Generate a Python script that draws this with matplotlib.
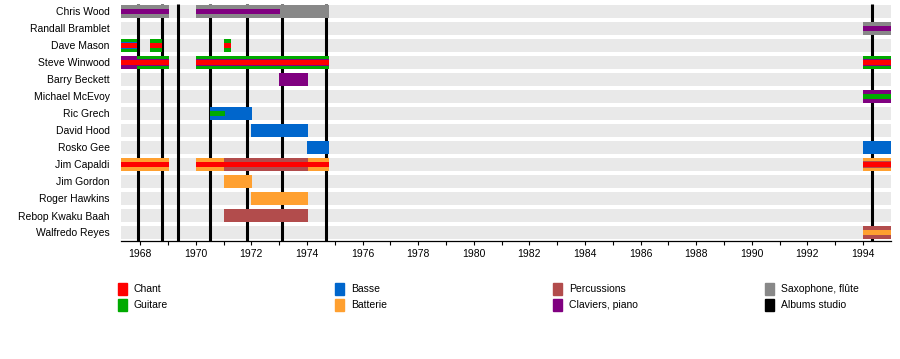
import matplotlib
matplotlib.use('Agg')
import matplotlib.pyplot as plt
from matplotlib.patches import Rectangle

plt.rcParams['font.family'] = ['Liberation Sans', 'DejaVu Sans']

members = ['Chris Wood', 'Randall Bramblet', 'Dave Mason', 'Steve Winwood',
           'Barry Beckett', 'Michael McEvoy', 'Ric Grech', 'David Hood',
           'Rosko Gee', 'Jim Capaldi', 'Jim Gordon', 'Roger Hawkins',
           'Rebop Kwaku Baah', 'Walfredo Reyes']

colors = {
    'Chant': '#ff0000',
    'Guitare': '#00aa00',
    'Basse': '#0066cc',
    'Batterie': '#ffa030',
    'Percussions': '#b24c4c',
    'Claviers, piano': '#800080',
    'Saxophone, flûte': '#888888',
    'Albums studio': '#000000',
}
legend_order = ['Chant', 'Guitare', 'Basse', 'Batterie',
                'Percussions', 'Claviers, piano', 'Saxophone, flûte', 'Albums studio']

period_start = 1967.3
period_end = 1995.0

# studio album release dates
albums = [1967.92, 1968.78, 1969.36, 1970.52, 1971.86, 1973.1, 1974.68, 1994.34]

# (member, start, end, role) main bars
base_bars = [
    ('Chris Wood', 1967.3, 1969.04, 'Saxophone, flûte'),
    ('Chris Wood', 1970.02, 1974.8, 'Saxophone, flûte'),
    ('Randall Bramblet', 1994.0, 1995.0, 'Saxophone, flûte'),
    ('Dave Mason', 1967.3, 1967.88, 'Guitare'),
    ('Dave Mason', 1968.36, 1968.78, 'Guitare'),
    ('Dave Mason', 1971.02, 1971.28, 'Guitare'),
    ('Steve Winwood', 1967.3, 1967.88, 'Claviers, piano'),
    ('Steve Winwood', 1967.88, 1969.04, 'Guitare'),
    ('Steve Winwood', 1970.02, 1974.8, 'Guitare'),
    ('Steve Winwood', 1994.0, 1995.0, 'Guitare'),
    ('Barry Beckett', 1973.01, 1974.04, 'Claviers, piano'),
    ('Michael McEvoy', 1994.0, 1995.0, 'Claviers, piano'),
    ('Ric Grech', 1970.52, 1972.02, 'Basse'),
    ('David Hood', 1972.0, 1974.04, 'Basse'),
    ('Rosko Gee', 1974.0, 1974.8, 'Basse'),
    ('Rosko Gee', 1994.0, 1995.0, 'Basse'),
    ('Jim Capaldi', 1967.3, 1969.04, 'Batterie'),
    ('Jim Capaldi', 1970.02, 1971.02, 'Batterie'),
    ('Jim Capaldi', 1971.02, 1974.02, 'Percussions'),
    ('Jim Capaldi', 1974.02, 1974.8, 'Batterie'),
    ('Jim Capaldi', 1994.0, 1995.0, 'Batterie'),
    ('Jim Gordon', 1971.02, 1972.02, 'Batterie'),
    ('Roger Hawkins', 1972.0, 1974.04, 'Batterie'),
    ('Rebop Kwaku Baah', 1971.02, 1974.04, 'Percussions'),
    ('Walfredo Reyes', 1994.0, 1995.0, 'Percussions'),
]

# secondary instruments, medium stripe
mid_stripes = [
    ('Dave Mason', 1967.3, 1967.88, 'Basse'),
    ('Steve Winwood', 1967.88, 1969.04, 'Claviers, piano'),
    ('Steve Winwood', 1970.02, 1974.8, 'Claviers, piano'),
    ('Steve Winwood', 1994.0, 1995.0, 'Claviers, piano'),
    ('Jim Capaldi', 1994.0, 1995.0, 'Percussions'),
]

# inner thin stripe
inner_stripes = [
    ('Chris Wood', 1967.3, 1969.04, 'Claviers, piano'),
    ('Chris Wood', 1970.02, 1973.04, 'Claviers, piano'),
    ('Randall Bramblet', 1994.0, 1995.0, 'Claviers, piano'),
    ('Dave Mason', 1967.3, 1967.88, 'Chant'),
    ('Dave Mason', 1968.36, 1968.78, 'Chant'),
    ('Dave Mason', 1971.02, 1971.28, 'Chant'),
    ('Steve Winwood', 1967.3, 1969.04, 'Chant'),
    ('Steve Winwood', 1970.02, 1974.8, 'Chant'),
    ('Steve Winwood', 1994.0, 1995.0, 'Chant'),
    ('Michael McEvoy', 1994.0, 1995.0, 'Guitare'),
    ('Ric Grech', 1970.52, 1971.06, 'Guitare'),
    ('Jim Capaldi', 1967.3, 1969.04, 'Chant'),
    ('Jim Capaldi', 1970.02, 1974.8, 'Chant'),
    ('Jim Capaldi', 1994.0, 1995.0, 'Chant'),
    ('Walfredo Reyes', 1994.0, 1995.0, 'Batterie'),
]

row = {m: i for i, m in enumerate(members)}

fig = plt.figure(figsize=(9, 3.59), dpi=100)
ax = fig.add_axes([120.7 / 900, 1 - 241 / 359, 770 / 900, (241 - 3.85) / 359])

# light background bands
ax.barh(range(len(members)), period_end - period_start, left=period_start,
        height=0.71, color='#e9e9e9', zorder=1)

ax.vlines(albums, -0.45, 13.5, color='black', linewidth=2.2, zorder=1.5)


def draw(bars, h, z):
    for m, s, e, role in bars:
        ax.barh(row[m], e - s, left=s, height=h, color=colors[role],
                linewidth=0, zorder=z)


draw(base_bars, 0.71, 2)
draw(mid_stripes, 0.47, 3)
draw(inner_stripes, 0.3, 4)

ax.set_xlim(period_start, period_end)
ax.set_ylim(13.5, -0.45)
ax.set_yticks(range(len(members)))
ax.set_yticklabels(members, fontsize=7.5)
ax.tick_params(axis='y', length=0, pad=8)
ax.set_xticks(range(1968, 1995, 2))
ax.set_xticks(range(1968, 1995), minor=True)
ax.tick_params(axis='x', which='both', length=3, width=0.8, labelsize=7.5, pad=3)
for sp in ['top', 'right', 'left']:
    ax.spines[sp].set_visible(False)
ax.spines['bottom'].set_linewidth(0.9)

# legend in two rows, four columns
col_x = [118, 335, 553, 765]
row_y = [283, 299]
for k, name in enumerate(legend_order):
    x = col_x[k // 2]
    y = row_y[k % 2]
    fig.patches.append(Rectangle((x / 900, 1 - (y + 12) / 359), 9 / 900, 12 / 359,
                                 transform=fig.transFigure, color=colors[name]))
    fig.text((x + 16) / 900, 1 - (y + 6.5) / 359, name, fontsize=7.5, va='center')

fig.savefig('out.png', dpi=100)
